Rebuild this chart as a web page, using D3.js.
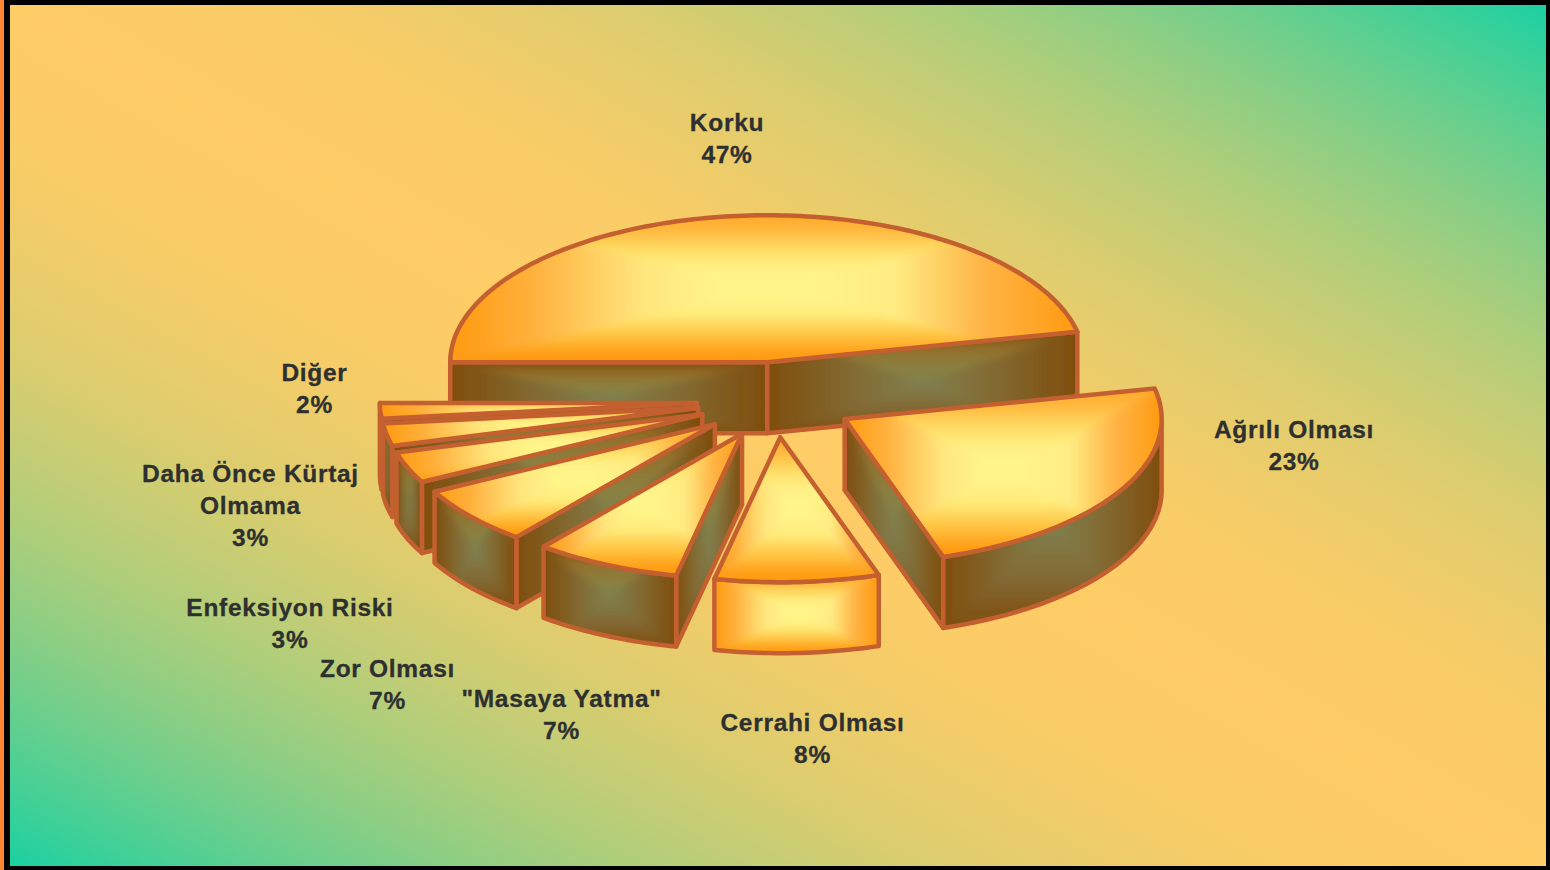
<!DOCTYPE html>
<html><head><meta charset="utf-8">
<script src="https://cdn.jsdelivr.net/npm/d3@7/dist/d3.min.js"></script>
<style>html,body{margin:0;padding:0;background:#000;overflow:hidden}svg{display:block}</style>
</head><body>
<svg id="chart" width="1550" height="870"></svg>
<script>
// ---- data ----
const categories = ["Korku","Ağrılı Olması","Cerrahi Olması","\"Masaya Yatma\"","Zor Olması","Enfeksiyon Riski","Daha Önce Kürtaj Olmama","Diğer"];
const shares = [46.67, 23.3, 8.36, 7.44, 6.5, 3.49, 2.51, 1.73];

// ---- layout ----
const W = 1550, H = 870;
const pieCx = 776, pieCy = 401, rx = 317, ryBack = 147, ryFront = 145, depth = 71;
const xs = d3.scaleLinear().domain([-1,1]).range([-rx,rx]);
const ys = d3.scaleLinear().domain([-1,0,1]).range([-ryBack,0,ryFront]);
const explosion = [0.265,0.25,0.25,0.25,0.25,0.25,0.25,0.25];
const labelLines = {6:["Daha Önce Kürtaj","Olmama"]};
const labelCentres = [[727,122.5],[1294,429.5],[812.5,722.5],[561.5,698.5],[387.5,668.5],[290,607.5],[250.5,473.5],[314.5,372.5]];
const drawOrder = [0,7,6,5,4,1,3,2];
const brightWall = 2;
const lineColor = "#C4602F";

const svg = d3.select("#chart");
const defs = svg.append("defs");

function grad(id, stops, x1,y1,x2,y2){
  const g = defs.append("linearGradient").attr("id",id)
    .attr("x1",x1).attr("y1",y1).attr("x2",x2).attr("y2",y2);
  stops.forEach(s=>g.append("stop").attr("offset",s[0]).attr("stop-color",s[1]));
}
// background: peach along the main diagonal, green in two corners
const peach = "#FFCC66", green = "#1BD1A1";
const mix = d3.interpolateRgb(peach, green);
const bgStops = [];
d3.range(0,1.001,0.1).forEach(f=>{
  bgStops.push([0.5+0.5*f, mix(f*f)]);
  if(f>0) bgStops.unshift([0.5-0.5*f, mix(f*f)]);
});
grad("bg", bgStops, 0,1,1,0);

// rectangular path fill: one ramp per side of the box, edge to centre
const tones = {
  bright:{ edge:"#FF9A10",
    T:[[0,"#FFA828"],[.24,"#FFBC42"],[.46,"#FFDC64"],[.7,"#FFF084"],[1,"#FFF88C"]],
    L:[[0,"#FF9A10"],[.26,"#FFB03C"],[.6,"#FFE47C"],[.85,"#FFF488"],[1,"#FFF88C"]],
    R:[[0,"#FF9A10"],[.3,"#FFB446"],[.58,"#FFEC82"],[.85,"#FFF488"],[1,"#FFF88C"]],
    B:[[0,"#FF9808"],[.14,"#FFA01A"],[.38,"#FFC644"],[.66,"#FFEC7C"],[1,"#FFF88C"]] },
  dark:{ edge:"#7F4D0C",
    T:[[0,"#7F4D0C"],[.35,"#93702C"],[.7,"#8A8040"],[1,"#80804E"]],
    L:[[0,"#7F4D0C"],[.5,"#82682F"],[1,"#80804E"]],
    R:[[0,"#7F4D0C"],[.5,"#82682F"],[1,"#80804E"]],
    B:[[0,"#7F4D0C"],[.5,"#826A35"],[1,"#80804E"]] }
};
Object.entries(tones).forEach(([k,t])=>{
  grad(k+"T",t.T,0,0,0,1); grad(k+"B",t.B,0,1,0,0);
  grad(k+"L",t.L,0,0,1,0); grad(k+"R",t.R,1,0,0,0);
});
defs.append("filter").attr("id","soft").attr("x","-5%").attr("y","-10%").attr("width","110%").attr("height","120%")
  .append("feGaussianBlur").attr("stdDeviation",3.5);

// frame and background
svg.append("rect").attr("width",W).attr("height",H).attr("fill","#000");
svg.append("rect").attr("width",4).attr("height",H).attr("fill","#FF8533");
svg.append("rect").attr("x",10).attr("y",5).attr("width",1536).attr("height",861).attr("fill","url(#bg)");

// slices
const pieGen = d3.pie().sort(null).value(d=>d).startAngle(Math.PI).endAngle(3*Math.PI);
const arcs = pieGen(shares);
const line = d3.line();
function pt(c,t,dy=0){ return [c[0]+xs(Math.cos(t)), c[1]+ys(Math.sin(t))+dy]; }
function arcPts(c,a,b,dy=0){
  const n = Math.max(2,Math.ceil(Math.abs(b-a)/0.02));
  return d3.range(n+1).map(i=>pt(c,a+(b-a)*i/n,dy));
}
let clipId = 0;
function face(g,d,toneName){
  const p = line(d)+"Z", tone = tones[toneName], id = "c"+(clipId++);
  defs.append("clipPath").attr("id",id).append("path").attr("d",p);
  const [x0,x1] = d3.extent(d,q=>q[0]), [y0,y1] = d3.extent(d,q=>q[1]);
  const mx=(x0+x1)/2, my=(y0+y1)/2;
  const clip = g.append("g").attr("clip-path",`url(#${id})`);
  const soft = clip.append("g").attr("filter","url(#soft)");
  soft.append("rect").attr("x",x0-14).attr("y",y0-14).attr("width",x1-x0+28).attr("height",y1-y0+28).attr("fill",tone.edge);
  [["T",[[x0,y0],[x1,y0],[mx,my]]],["B",[[x0,y1],[x1,y1],[mx,my]]],
   ["L",[[x0,y0],[x0,y1],[mx,my]]],["R",[[x1,y0],[x1,y1],[mx,my]]]].forEach(([s,tri])=>{
    soft.append("path").attr("d",line(tri)+"Z").attr("fill",`url(#${toneName}${s})`).attr("shape-rendering","crispEdges");
  });
  g.append("path").attr("d",p).attr("fill","none").attr("stroke",lineColor).attr("stroke-width",4.5).attr("stroke-linejoin","round");
}
drawOrder.forEach(i=>{
  const s = arcs[i], a = s.startAngle, b = s.endAngle, m=(a+b)/2;
  const c = [pieCx+explosion[i]*xs(Math.cos(m)), pieCy+explosion[i]*ys(Math.sin(m))];
  const g = svg.append("g").attr("class","slice").attr("data-name",categories[i]);
  const wall = i===brightWall?"bright":"dark";
  // radial walls, when they face the viewer
  if(-Math.cos(a)>1e-6){ const p=pt(c,a); face(g,[c,p,[p[0],p[1]+depth],[c[0],c[1]+depth]],wall); }
  if(Math.cos(b)>1e-6){ const p=pt(c,b); face(g,[c,p,[p[0],p[1]+depth],[c[0],c[1]+depth]],wall); }
  // curved wall: front half of the ellipse only
  const fa = Math.max(a,2*Math.PI), fb = Math.min(b,3*Math.PI);
  if(fb>fa){ face(g,arcPts(c,fa,fb).concat(arcPts(c,fb,fa,depth)),wall); }
  // top
  face(g,[c].concat(arcPts(c,a,b)),"bright");
});

// labels
const labels = svg.append("g").attr("font-family","'Liberation Sans',Arial,sans-serif").attr("font-weight",700).attr("font-size",24.5)
  .attr("letter-spacing","0.7px").attr("fill","#2E3030").attr("stroke","#2E3030").attr("stroke-width",0.3).attr("text-anchor","middle");
categories.forEach((name,i)=>{
  const lines = (labelLines[i]||[name]).concat([Math.round(shares[i])+"%"]);
  lines.forEach((t,j)=>{
    labels.append("text").attr("x",labelCentres[i][0]).attr("y",labelCentres[i][1]+j*31.6).attr("dy","0.36em").text(t);
  });
});
</script>
</body></html>
